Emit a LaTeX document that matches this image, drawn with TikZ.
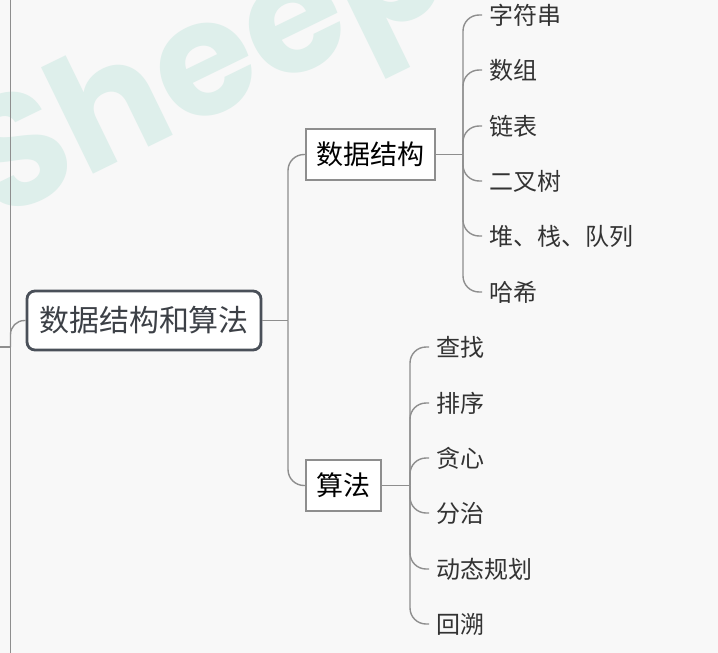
\documentclass[tikz,border=0pt]{standalone}
\usepackage{fontspec}
\newfontfamily\cjk{Noto Sans CJK SC}
\newfontfamily\wmfont{Poppins}
\definecolor{bg}{RGB}{248,248,248}
\definecolor{wm}{RGB}{222,239,235}
\definecolor{linegray}{RGB}{142,142,142}
\definecolor{rootborder}{RGB}{74,80,89}
\definecolor{roottext}{RGB}{60,64,70}
\definecolor{leaftext}{RGB}{51,51,51}
\begin{document}
\begin{tikzpicture}[x=1pt,y=-1pt,
  conn/.style={draw=linegray, line width=1.4pt},
  rootbox/.style={draw=rootborder, line width=2.8pt, fill=white, rounded corners=8pt,
    minimum width=234pt, minimum height=59pt, inner sep=0pt,
    font=\cjk\fontsize{30}{36}\selectfont, text=roottext},
  subbox/.style={draw=linegray, line width=1.4pt, fill=white,
    minimum height=51pt, inner sep=0pt,
    font=\cjk\fontsize{27}{32}\selectfont, text=black},
  leaf/.style={anchor=west, inner xsep=7pt, inner ysep=0pt,
    font=\cjk\fontsize{24}{28}\selectfont, text=leaftext},
  brc/.style={conn, rounded corners=16pt}]
\useasboundingbox (0,0) rectangle (718,653);
\fill[bg] (0,0) rectangle (718,653);
\begin{scope}
\clip (0,0) rectangle (718,653);
\node[anchor=base west, rotate=26, inner sep=0pt, text=wm,
  font=\wmfont\bfseries\fontsize{160}{160}\selectfont] (wmark) at (-4,222) {Sheep};
\end{scope}
% left sibling line
\coordinate (lt) at (10.5,0);
\coordinate (lb) at (10.5,653);
\coordinate (lin) at (0,347);
\coordinate (lj) at (10.5,347);
\draw[conn] (lt) -- (lb);
\draw[conn] (lin) -- (lj);
% nodes
\node[rootbox] (root) at (144,320.5) {数据结构和算法};
\node[subbox, minimum width=129pt] (ds) at (370.5,154.5) {数据结构};
\node[subbox, minimum width=75pt] (alg) at (343.5,485.5) {算法};
\node[leaf] (l1) at (482,15) {字符串};
\node[leaf] (l2) at (482,70) {数组};
\node[leaf] (l3) at (482,126) {链表};
\node[leaf] (l4) at (482,181) {二叉树};
\node[leaf] (l5) at (482,236) {堆、栈、队列};
\node[leaf] (l6) at (482,292) {哈希};
\node[leaf] (a1) at (429,347) {查找};
\node[leaf] (a2) at (429,403) {排序};
\node[leaf] (a3) at (429,458) {贪心};
\node[leaf] (a4) at (429,513) {分治};
\node[leaf] (a5) at (429,569) {动态规划};
\node[leaf] (a6) at (429,624) {回溯};
% connectors
\draw[conn, rounded corners=14pt] (lj) |- (root.west);
\coordinate (jr) at (288,320.5);
\draw[conn] (root.east) -- (jr);
\draw[brc] (jr) |- (ds.west);
\draw[brc] (jr) |- (alg.west);
\coordinate (jds) at (463,154.5);
\draw[conn] (ds.east) -- (jds);
\foreach \n in {l1,l2,l3,l4,l5,l6} \draw[brc] (jds) |- (\n.west);
\coordinate (jalg) at (410,485.5);
\draw[conn] (alg.east) -- (jalg);
\foreach \n in {a1,a2,a3,a4,a5,a6} \draw[brc] (jalg) |- (\n.west);
\end{tikzpicture}
\end{document}
